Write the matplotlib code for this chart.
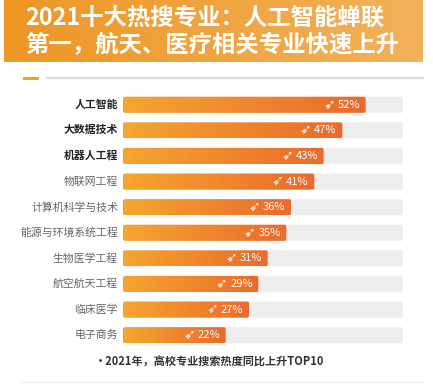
import numpy as np
import matplotlib.pyplot as plt
from matplotlib.patches import FancyBboxPatch
from matplotlib.colors import LinearSegmentedColormap
from matplotlib.lines import Line2D

plt.rcParams['font.family'] = ['Noto Sans CJK SC', 'DejaVu Sans']

# data
majors = ['人工智能', '大数据技术', '机器人工程', '物联网工程', '计算机科学与技术',
          '能源与环境系统工程', '生物医学工程', '航空航天工程', '临床医学', '电子商务']
growth = [52, 47, 43, 41, 36, 35, 31, 29, 27, 22]
bold_top = 3
title = '2021十大热搜专业：人工智能蝉联\n第一，航天、医疗相关专业快速上升'
footnote = '・2021年，高校专业搜索热度同比上升TOP10'

W, H = 433, 384
fig = plt.figure(figsize=(W / 100, H / 100), dpi=100)
fig.patch.set_facecolor('white')

# title banner with gradient
bx = fig.add_axes([4 / W, 1 - 62 / H, 419 / W, 62 / H])
banner_cmap = LinearSegmentedColormap.from_list('banner', ['#EE9626', '#F2B25A'])
bx.imshow(np.linspace(0, 1, 256).reshape(1, -1), cmap=banner_cmap, aspect='auto',
          extent=(0, 1, 0, 1))
bx.set_xlim(0, 1)
bx.set_ylim(0, 1)
bx.axis('off')
bx.text(0.05, 0.50, title, color='white', fontsize=16.8, fontweight='bold',
        va='center', ha='left', linespacing=1.12)

# decorative separator
fig.add_artist(Line2D([24 / W, 37 / W], [1 - 78 / H] * 2, color='#F0A030', lw=2.2))
fig.add_artist(Line2D([47 / W, 423 / W], [1 - 78 / H] * 2, color='#DDDDDD', lw=1.6))

# bars
ax = fig.add_axes([123 / W, 1 - 348 / H, 280 / W, 256 / H])
xmax = 60
n = len(majors)
ax.set_xlim(0, xmax)
ax.set_ylim(n - 0.5, -0.5)
ax.axis('off')

bar_h = 0.63
asp = (xmax / 280) / (n / 256)
bar_cmap = LinearSegmentedColormap.from_list('bar', ['#F5A630', '#EB6A2C'])
grad = np.linspace(0, 1, 256).reshape(1, -1)

for i, (name, v) in enumerate(zip(majors, growth)):
    bg = FancyBboxPatch((0, i - bar_h / 2), xmax, bar_h,
                        boxstyle='round,pad=0,rounding_size=0.4',
                        mutation_aspect=1 / asp, fc='#EEEEEE', ec='none')
    ax.add_patch(bg)
    fg = FancyBboxPatch((0, i - bar_h / 2), v, bar_h,
                        boxstyle='round,pad=0,rounding_size=0.4',
                        mutation_aspect=1 / asp, fc='none', ec='none')
    ax.add_patch(fg)
    im = ax.imshow(grad, cmap=bar_cmap, aspect='auto',
                   extent=(0, v, i + bar_h / 2, i - bar_h / 2), zorder=2)
    im.set_clip_path(fg)
    ax.annotate(f'{v}%', (v, i), xytext=(-4, 0), textcoords='offset points',
                ha='right', va='center', color='white', fontsize=8, zorder=3)
    ax.annotate('➶', (v, i), xytext=(-22, 0.5), textcoords='offset points',
                ha='right', va='center', color='white', fontsize=10,
                family='DejaVu Sans', zorder=3)
    if i < bold_top:
        ax.text(-5 * xmax / 280, i, name, ha='right', va='center',
                fontsize=7.8, fontweight='bold', color='#222222')
    else:
        ax.text(-5 * xmax / 280, i, name, ha='right', va='center',
                fontsize=7.8, color='#666666')

fig.text(210 / W, 1 - 361 / H, footnote, ha='center', va='center',
         fontsize=8, fontweight='bold', color='#333333')

fig.add_artist(Line2D([20 / W, 423 / W], [1 - 382 / H] * 2, color='#F2F2F2', lw=1))

fig.savefig('out.png', dpi=100)
